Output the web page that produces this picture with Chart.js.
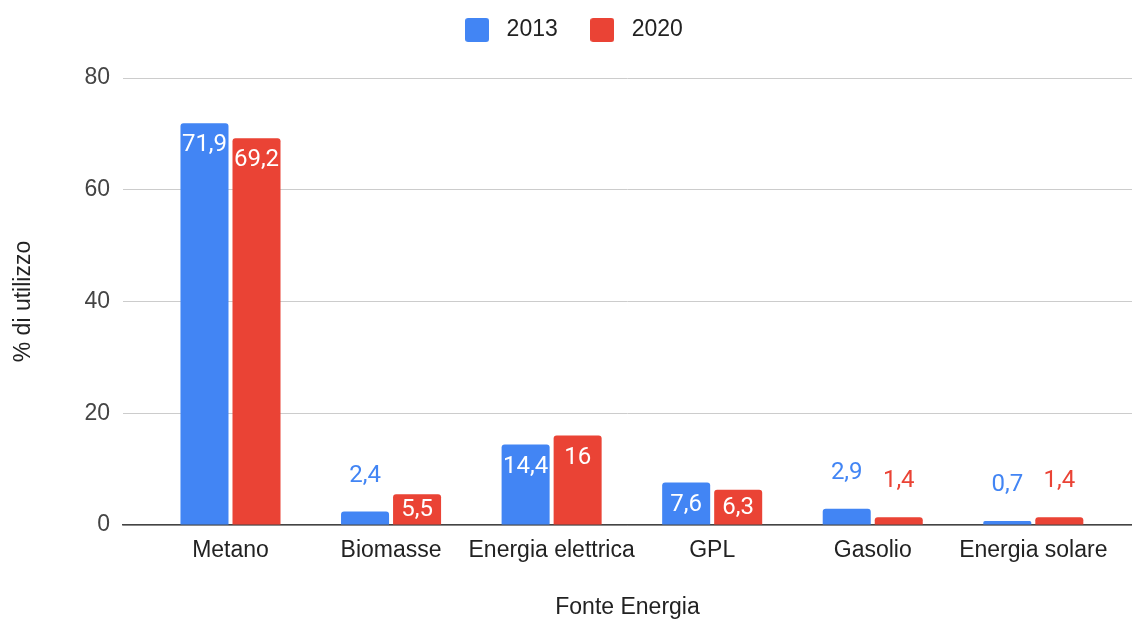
<!DOCTYPE html>
<html>
<head>
<meta charset="utf-8">
<script src="https://cdn.jsdelivr.net/npm/chart.js@4.4.1/dist/chart.umd.min.js"></script>
<style>
  html, body { margin: 0; padding: 0; background: #ffffff; }
  canvas { display: block; }
</style>
</head>
<body>
<canvas id="chart" width="1132" height="621"></canvas>
<script>
// Fonti di energia per il riscaldamento: quota di utilizzo (%) nel 2013 e nel 2020
const categories = ['Metano', 'Biomasse', 'Energia elettrica', 'GPL', 'Gasolio', 'Energia solare'];
const values2013 = [71.9, 2.4, 14.4, 7.6, 2.9, 0.7];
const values2020 = [69.2, 5.5, 16, 6.3, 1.4, 1.4];
const seriesNames = ['2013', '2020'];
const yTicks = [0, 20, 40, 60, 80];

const BLUE = '#4285F4';
const RED = '#EA4335';
const axisFont = { family: '"Liberation Sans", Arial, sans-serif', size: 23 };

const toPoints = vals => vals.map((v, i) => ({ x: i, y: v }));
const formatValue = v => String(v).replace('.', ',');

// Small rounded colour square used as the legend marker
function legendSwatch(color) {
  const c = document.createElement('canvas');
  c.width = 24;
  c.height = 24;
  const g = c.getContext('2d');
  g.fillStyle = color;
  g.beginPath();
  if (g.roundRect) g.roundRect(0, 0, 24, 24, 3); else g.rect(0, 0, 24, 24);
  g.fill();
  return c;
}

// Legend band at the top: fixed height, items nudged into place
const legendBand = {
  id: 'legendBand',
  afterInit(chart) {
    const lg = chart.legend;
    const fit = lg.fit.bind(lg);
    lg.fit = function () { fit(); this.height = 78; };
  },
  afterLayout(chart) {
    const lg = chart.legend;
    lg.top = -8;
    lg.left += 5;
    lg.right += 5;
  }
};

// Value labels: white inside tall bars, series colour above short ones
const barValueLabels = {
  id: 'barValueLabels',
  afterDatasetsDraw(chart) {
    const ctx = chart.ctx;
    ctx.save();
    ctx.font = '24px Roboto, "Liberation Sans", sans-serif';
    ctx.textAlign = 'center';
    ctx.textBaseline = 'middle';
    chart.data.datasets.forEach((ds, di) => {
      const meta = chart.getDatasetMeta(di);
      meta.data.forEach((bar, i) => {
        const v = ds.data[i].y;
        const text = formatValue(v);
        const { x, y, base, width } = bar.getProps(['x', 'y', 'base', 'width'], true);
        if (v >= 5) {
          ctx.save();
          ctx.beginPath();
          ctx.rect(x - width / 2, y, width, base - y);
          ctx.clip();
          ctx.fillStyle = '#ffffff';
          ctx.fillText(text, x, Math.min(y + 22, (y + base) / 2 + 1));
          ctx.restore();
        } else {
          ctx.fillStyle = ds.backgroundColor;
          ctx.fillText(text, x, y - 36);
        }
      });
    });
    ctx.restore();
  }
};

new Chart(document.getElementById('chart'), {
  type: 'bar',
  data: {
    datasets: [
      { label: seriesNames[0], data: toPoints(values2013), backgroundColor: BLUE, borderRadius: 3 },
      { label: seriesNames[1], data: toPoints(values2020), backgroundColor: RED, borderRadius: 3 }
    ]
  },
  options: {
    responsive: false,
    animation: false,
    devicePixelRatio: 1,
    categoryPercentage: 0.648,
    barPercentage: 0.923,
    layout: { padding: { top: 0, right: 0, bottom: 0, left: 0 } },
    plugins: {
      legend: {
        position: 'top',
        align: 'center',
        labels: {
          font: axisFont,
          color: '#222',
          usePointStyle: true,
          pointStyleWidth: 36,
          boxHeight: 24,
          padding: 26.5,
          generateLabels(chart) {
            return chart.data.datasets.map((ds, i) => ({
              text: ds.label,
              datasetIndex: i,
              fillStyle: ds.backgroundColor,
              strokeStyle: ds.backgroundColor,
              lineWidth: 0,
              fontColor: '#222',
              hidden: !chart.isDatasetVisible(i),
              pointStyle: legendSwatch(ds.backgroundColor)
            }));
          }
        }
      },
      tooltip: { enabled: false }
    },
    scales: {
      x: {
        type: 'linear',
        offset: false,
        min: -0.6695,
        max: 5.6147,
        afterBuildTicks: s => { s.ticks = categories.map((_, i) => ({ value: i })); },
        ticks: {
          callback: v => categories[v],
          font: axisFont,
          color: '#222',
          padding: 12,
          maxRotation: 0,
          autoSkip: false
        },
        grid: { display: false, drawTicks: false, offset: false },
        border: { color: '#444', width: 1.5 },
        title: {
          display: true,
          text: 'Fonte Energia',
          font: axisFont,
          color: '#222',
          padding: { top: 0, bottom: 0 }
        },
        afterFit: s => { s.height = 96; }
      },
      y: {
        min: 0,
        max: 80,
        afterBuildTicks: s => { s.ticks = yTicks.map(v => ({ value: v })); },
        ticks: { font: axisFont, color: '#444', padding: 13 },
        grid: { color: '#cccccc', lineWidth: 1, drawTicks: false },
        border: { display: false },
        title: {
          display: true,
          text: '% di utilizzo',
          font: axisFont,
          color: '#222',
          padding: { top: 10, bottom: 0 }
        },
        afterFit: s => { s.width = 123; }
      }
    }
  },
  plugins: [legendBand, barValueLabels]
});
</script>
</body>
</html>
